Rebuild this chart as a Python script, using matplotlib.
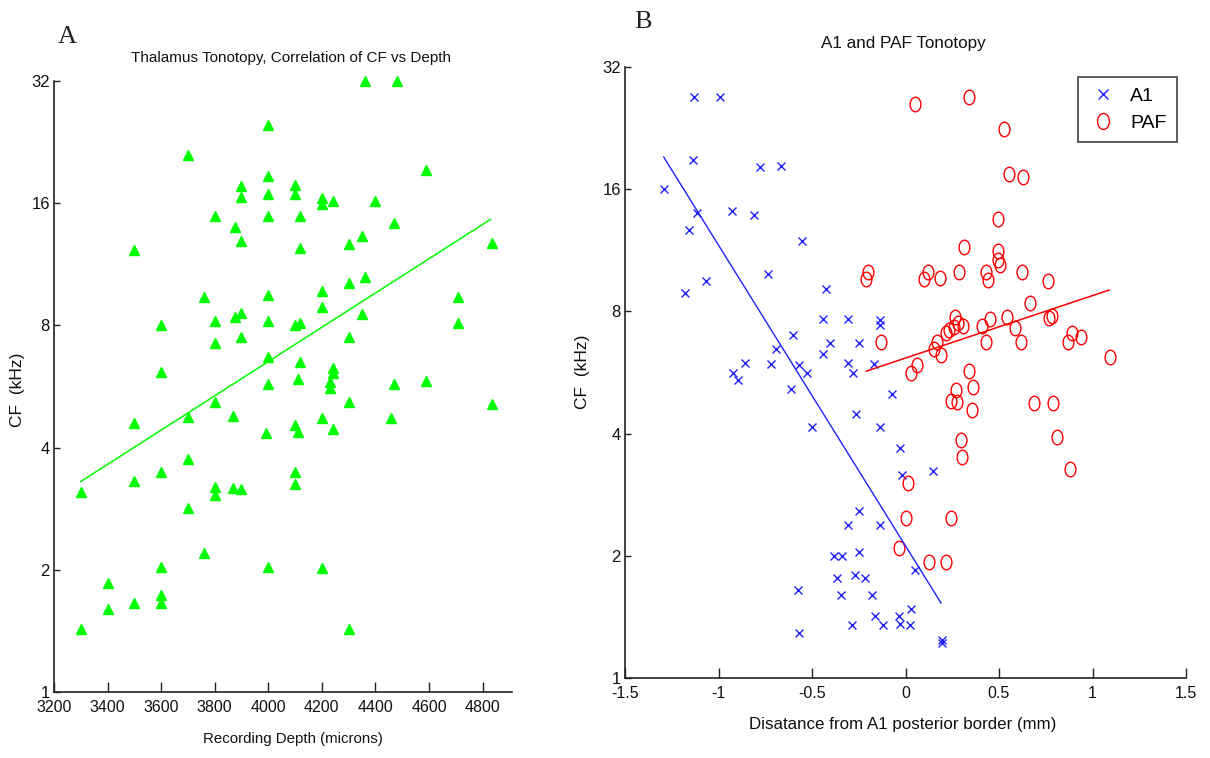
import matplotlib
matplotlib.use("Agg")
import matplotlib.pyplot as plt
import numpy as np
from matplotlib.path import Path
from matplotlib.transforms import Affine2D

# ---------------- data (panel A) ----------------
depth_um = [4360, 4480, 4000, 3700, 4590, 4000, 3900, 3900, 4000, 4100, 4100, 4200,
            4200, 4240, 4400, 3800, 4000, 4120, 3875, 4470, 3900, 4350, 4120, 4300,
            4835, 3500, 4300, 4360, 4200, 4000, 3760, 4710, 4200, 3875, 3900, 4350,
            3600, 3800, 4000, 4100, 4120, 4710, 3900, 4300, 3800, 4000, 4120, 4240,
            3600, 4240, 4230, 4230, 4000, 4110, 4470, 4590, 3800, 4300, 4835, 3700,
            3870, 4200, 4460, 3500, 4100, 4110, 4240, 3990, 3700, 3600, 4100, 4100,
            3500, 3800, 3800, 3870, 3900, 3300, 3700, 3760, 3600, 4000, 4200, 3400,
            3400, 3500, 3600, 3600, 3300, 4300]
cf_thal = [32, 32, 25, 21, 19.3, 18.7, 17.6, 16.6, 16.9, 17.7, 16.9, 16.5,
           15.9, 16.2, 16.2, 14.9, 14.9, 14.9, 14.0, 14.3, 12.9, 13.3, 12.4, 12.7,
           12.8, 12.3, 10.2, 10.5, 9.7, 9.5, 9.4, 9.4, 8.9, 8.4, 8.6, 8.55,
           8.0, 8.2, 8.2, 8.0, 8.1, 8.1, 7.5, 7.5, 7.25, 6.7, 6.5, 6.3,
           6.15, 6.1, 5.8, 5.6, 5.74, 5.9, 5.74, 5.85, 5.19, 5.17, 5.12, 4.77,
           4.79, 4.72, 4.72, 4.59, 4.54, 4.38, 4.44, 4.34, 3.74, 3.49, 3.49, 3.25,
           3.31, 3.2, 3.06, 3.18, 3.16, 3.11, 2.84, 2.2, 2.03, 2.03, 2.02, 1.86,
           1.6, 1.66, 1.73, 1.66, 1.43, 1.43]
fit_a_depth = [3300, 4830]
fit_a_cf = [3.3, 14.6]

# ---------------- data (panel B) ----------------
a1_dist = [-1.130, -0.991, -1.293, -1.135, -0.776, -0.667, -1.115, -0.928, -0.811, -1.156,
           -0.555, -0.735, -1.067, -1.178, -0.425, -0.439, -0.306, -0.137, -0.135, -0.603,
           -0.404, -0.251, -0.693, -0.439, -0.858, -0.721, -0.571, -0.306, -0.171, -0.923,
           -0.898, -0.528, -0.281, -0.610, -0.073, -0.267, -0.500, -0.135, -0.027, -0.020,
           0.149, -0.246, -0.306, -0.135, -0.383, -0.342, -0.251, 0.053, -0.367, -0.272,
           -0.217, -0.577, -0.347, -0.181, -0.162, -0.034, 0.031, -0.288, -0.121, -0.027,
           0.023, -0.571, 0.194, 0.196]
a1_cf = [27.0, 27.0, 16.0, 18.9, 18.1, 18.3, 14.0, 14.1, 13.8, 12.7,
         11.9, 9.9, 9.5, 8.9, 9.1, 7.66, 7.66, 7.6, 7.4, 7.0,
         6.7, 6.7, 6.46, 6.3, 5.96, 5.93, 5.9, 5.96, 5.93, 5.65,
         5.42, 5.65, 5.63, 5.15, 5.0, 4.47, 4.16, 4.16, 3.68, 3.16,
         3.23, 2.58, 2.38, 2.38, 2.0, 2.0, 2.04, 1.84, 1.76, 1.79,
         1.76, 1.65, 1.6, 1.6, 1.42, 1.42, 1.48, 1.35, 1.35, 1.36,
         1.35, 1.29, 1.24, 1.22]
paf_dist = [0.052, 0.342, 0.528, 0.555, 0.631, 0.492, 0.313, 0.492, 0.492, 0.503,
            -0.203, -0.210, 0.119, 0.101, 0.184, 0.287, 0.432, 0.439, 0.624, 0.761,
            0.665, -0.130, 0.267, 0.261, 0.306, 0.280, 0.217, 0.230, 0.452, 0.407,
            0.543, 0.585, 0.768, 0.786, 0.167, 0.155, 0.190, 0.430, 0.617, 0.893,
            0.871, 0.937, 1.092, 0.060, 0.030, 0.342, 0.360, 0.270, 0.244, 0.274,
            0.354, 0.688, 0.790, 0.809, 0.295, 0.300, 0.879, 0.016, 0.004, 0.244,
            -0.037, 0.124, 0.217]
paf_cf = [25.9, 27.0, 22.5, 17.4, 17.1, 13.5, 11.5, 11.3, 10.7, 10.4,
          10.0, 9.6, 10.0, 9.6, 9.65, 10.0, 10.0, 9.55, 10.0, 9.5,
          8.4, 6.71, 7.74, 7.34, 7.37, 7.5, 7.07, 7.2, 7.68, 7.37,
          7.74, 7.27, 7.72, 7.78, 6.74, 6.45, 6.25, 6.71, 6.71, 7.07,
          6.71, 6.93, 6.19, 5.9, 5.65, 5.7, 5.22, 5.12, 4.81, 4.78,
          4.57, 4.77, 4.77, 3.93, 3.86, 3.51, 3.27, 3.03, 2.48, 2.48,
          2.09, 1.93, 1.93]
fit_a1_dist = [-1.293, 0.190]
fit_a1_cf = [19.2, 1.53]
fit_paf_dist = [-0.210, 1.089]
fit_paf_cf = [5.70, 9.03]

y_ticks = [1, 2, 4, 8, 16, 32]
xticks_a = [3200, 3400, 3600, 3800, 4000, 4200, 4400, 4600, 4800]
xticks_b = [-1.5, -1, -0.5, 0, 0.5, 1, 1.5]

# ---------------- styling ----------------
SANS = ['Liberation Sans Narrow', 'Liberation Sans', 'DejaVu Sans']
plt.rcParams['font.family'] = SANS

W, H = 1210, 758
fig = plt.figure(figsize=(W / 100, H / 100), dpi=100)

def fx(px):
    return px / W

def fy(py):
    return 1 - py / H

def axes_px(left, top, right, bottom):
    return fig.add_axes([fx(left), fy(bottom), (right - left) / W, (bottom - top) / H])

axA = axes_px(54, 81, 512, 692)
axB = axes_px(625, 67, 1186, 678)

ell = Path.unit_circle().transformed(Affine2D().scale(0.74, 1.0))

for ax in (axA, axB):
    ax.set_yscale('log', base=2)
    ax.set_ylim(1, 32)
    ax.set_yticks(y_ticks)
    ax.set_yticklabels([str(t) for t in y_ticks])
    ax.minorticks_off()
    for s in ('top', 'right'):
        ax.spines[s].set_visible(False)
    for s in ('left', 'bottom'):
        ax.spines[s].set_linewidth(1.2)
        ax.spines[s].set_color('#222222')
    ax.tick_params(axis='x', direction='in', length=7, width=1, pad=6,
                   labelsize=11.5, colors='#222222', labelcolor='#111111')
    ax.tick_params(axis='y', direction='in', length=4, width=1, pad=3,
                   labelsize=12, colors='#222222', labelcolor='#111111')
    ax.patch.set_alpha(0)

# Panel A
axA.plot(depth_um, cf_thal, linestyle='none', marker='^', ms=7,
         mfc='#00ff00', mec='#00ff00', clip_on=False)
axA.plot(fit_a_depth, fit_a_cf, color='#00ff00', lw=1.1)
axA.set_xlim(3200, 4910)
axA.set_xticks(xticks_a)
axA.set_xticklabels([str(t) for t in xticks_a])

# Panel B
axB.plot(a1_dist, a1_cf, linestyle='none', marker='x', ms=6, mew=1,
         color='#2020ff', label='A1')
axB.plot(paf_dist, paf_cf, linestyle='none', marker=ell, ms=10.5, mew=1,
         mfc='none', mec='#ff0000', label='PAF')
axB.plot(fit_a1_dist, fit_a1_cf, color='#2020ff', lw=1)
axB.plot(fit_paf_dist, fit_paf_cf, color='#ff0000', lw=1.1)
axB.set_xlim(-1.5, 1.5)
axB.set_xticks(xticks_b)
axB.set_xticklabels(['-1.5', '-1', '-0.5', '0', '0.5', '1', '1.5'])

leg = axB.legend(loc='upper right',
                 bbox_to_anchor=((1177 - 625) / 561, (678 - 77) / 611),
                 fontsize=14, frameon=True, fancybox=False, edgecolor='#222222',
                 handlelength=1.4, handletextpad=0.7, borderpad=0.55,
                 labelspacing=0.45, borderaxespad=0, markerscale=1.1)
leg.get_frame().set_linewidth(1.3)

# Titles / labels
fig.text(fx(291), fy(62), 'Thalamus Tonotopy, Correlation of CF vs Depth',
         ha='center', va='baseline', fontsize=11, color='#111111')
fig.text(fx(903), fy(48), 'A1 and PAF Tonotopy',
         ha='center', va='baseline', fontsize=12.3, color='#111111')
fig.text(fx(293), fy(732), 'Recording Depth (microns)',
         ha='center', va='top', fontsize=10.8, color='#111111')
fig.text(fx(903), fy(717), 'Disatance from A1 posterior border (mm)',
         ha='center', va='top', fontsize=12.2, color='#111111')
fig.text(fx(18), fy(390), 'CF  (kHz)', rotation=90, ha='center', va='center',
         fontsize=12.5, color='#111111')
fig.text(fx(582), fy(372), 'CF  (kHz)', rotation=90, ha='center', va='center',
         fontsize=12.5, color='#111111')
fig.text(fx(67), fy(43), 'A', ha='center', va='baseline', fontsize=19,
         color='#222222', family=['Liberation Serif', 'DejaVu Serif'])
fig.text(fx(643), fy(28), 'B', ha='center', va='baseline', fontsize=19,
         color='#222222', family=['Liberation Serif', 'DejaVu Serif'])

fig.savefig('out.png', dpi=100)
